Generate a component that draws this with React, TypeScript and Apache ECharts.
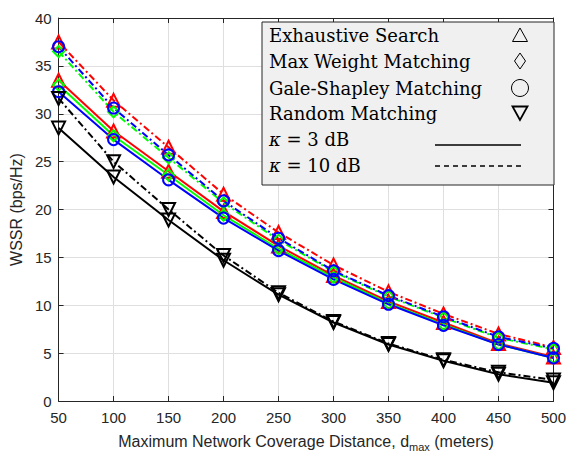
import React, { useEffect, useRef } from "react";
import * as echarts from "echarts";

const xValues = [50, 100, 150, 200, 250, 300, 350, 400, 450, 500];
const exh3 = [33.5, 28.2, 24.0, 19.8, 16.2, 13.1, 10.4, 8.2, 6.0, 4.6];
const exh10 = [37.5, 31.4, 26.5, 21.6, 17.6, 14.2, 11.4, 9.1, 7.0, 5.6];
const mwm3 = [33.0, 27.7, 23.6, 19.4, 15.9, 12.9, 10.2, 8.0, 5.9, 4.5];
const mwm10 = [36.5, 30.2, 25.4, 20.7, 16.8, 13.5, 10.9, 8.7, 6.6, 5.4];
const gs3 = [32.3, 27.3, 23.1, 19.1, 15.7, 12.7, 10.1, 7.9, 5.9, 4.5];
const gs10 = [37.0, 30.6, 25.7, 20.9, 17.0, 13.6, 11.0, 8.8, 6.7, 5.5];
const rnd3 = [28.5, 23.4, 18.9, 14.7, 11.1, 8.2, 5.9, 4.2, 2.8, 1.9];
const rnd10 = [31.6, 25.0, 20.0, 15.2, 11.3, 8.3, 6.0, 4.3, 3.0, 2.2];

const legendNames = [
  "Exhaustive Search",
  "Max Weight Matching",
  "Gale-Shapley Matching",
  "Random Matching",
];
const kappaValues = ["3", "10"];

const DASHDOT = [7, 3, 2, 3];
const AXIS_COLOR = "#262626";
const SANS = "Liberation Sans";

function mk(
  name: string,
  vals: number[],
  color: string,
  symbol: string,
  size: number,
  dashed: boolean,
  rotate = 0
) {
  return {
    name,
    type: "line",
    xAxisIndex: 0,
    yAxisIndex: 0,
    data: xValues.map((x, i) => [x, vals[i]]),
    symbol,
    symbolSize: size,
    symbolRotate: rotate,
    showSymbol: true,
    lineStyle: { color, width: 2, type: dashed ? DASHDOT : "solid" },
    itemStyle: { color: "rgba(0,0,0,0)", borderColor: color, borderWidth: 2 },
    emphasis: { disabled: true },
    z: 3,
  };
}

export default function App() {
  const ref = useRef<HTMLDivElement>(null);
  useEffect(() => {
    const chart = echarts.init(ref.current!, null, { renderer: "svg" });
    const serif = "DejaVu Serif";
    const fs = 18;
    const lx = 262;
    const ly = 22;
    const rowY = [35, 61, 88, 113, 139, 165];
    const mx = 520;
    const legendText = (t: string, y: number) => ({
      type: "text",
      x: lx + 7,
      y,
      style: {
        text: t,
        font: `${fs}px "${serif}"`,
        fill: "#000",
        verticalAlign: "middle",
      },
      z: 101,
    });
    const kappaText = (v: string, y: number) => ({
      type: "text",
      x: lx + 7,
      y,
      style: {
        text: `{i|κ} = ${v} dB`,
        font: `${fs}px "${serif}"`,
        fill: "#000",
        verticalAlign: "middle",
        rich: { i: { fontStyle: "italic", fontFamily: serif, fontSize: fs } },
      },
      z: 101,
    });
    const baseAxis = {
      axisLine: { show: true, onZero: false, lineStyle: { color: AXIS_COLOR, width: 1 } },
      axisTick: { show: true, inside: true, length: 5, lineStyle: { color: AXIS_COLOR } },
    };
    chart.setOption({
      animation: false,
      backgroundColor: "#ffffff",
      grid: { left: 57, top: 18, width: 500, height: 390, containLabel: false },
      xAxis: [
        {
          type: "value",
          min: 50,
          max: 500,
          interval: 50,
          position: "bottom",
          name: "Maximum Network Coverage Distance, d{sub|max} (meters)",
          nameLocation: "middle",
          nameGap: 30,
          nameTextStyle: {
            fontFamily: SANS,
            fontSize: 16,
            color: AXIS_COLOR,
            rich: {
              sub: {
                fontFamily: SANS,
                fontSize: 11,
                color: AXIS_COLOR,
                verticalAlign: "bottom",
                padding: [10, 0, 0, 0],
              },
            },
          },
          ...baseAxis,
          axisLabel: { fontFamily: SANS, fontSize: 15, color: AXIS_COLOR, margin: 9 },
          splitLine: { show: true, lineStyle: { color: "#dfdfdf", width: 1 } },
        },
        {
          type: "value",
          min: 50,
          max: 500,
          interval: 50,
          position: "top",
          ...baseAxis,
          axisLabel: { show: false },
          splitLine: { show: false },
        },
      ],
      yAxis: [
        {
          type: "value",
          min: 0,
          max: 40,
          interval: 5,
          position: "left",
          name: "WSSR (bps/Hz)",
          nameLocation: "middle",
          nameGap: 31,
          nameTextStyle: { fontFamily: SANS, fontSize: 16, color: AXIS_COLOR },
          ...baseAxis,
          axisLabel: { fontFamily: SANS, fontSize: 15, color: AXIS_COLOR, margin: 7 },
          splitLine: { show: true, lineStyle: { color: "#dfdfdf", width: 1 } },
        },
        {
          type: "value",
          min: 0,
          max: 40,
          interval: 5,
          position: "right",
          ...baseAxis,
          axisLabel: { show: false },
          splitLine: { show: false },
        },
      ],
      series: [
        mk(legendNames[0] + " 3", exh3, "#ff0000", "triangle", 13, false),
        mk(legendNames[0] + " 10", exh10, "#ff0000", "triangle", 13, true),
        mk(legendNames[1] + " 3", mwm3, "#00ff00", "diamond", 11, false),
        mk(legendNames[1] + " 10", mwm10, "#00ff00", "diamond", 11, true),
        mk(legendNames[2] + " 3", gs3, "#0000ff", "circle", 11, false),
        mk(legendNames[2] + " 10", gs10, "#0000ff", "circle", 11, true),
        mk(legendNames[3] + " 3", rnd3, "#000000", "triangle", 13, false, 180),
        mk(legendNames[3] + " 10", rnd10, "#000000", "triangle", 13, true, 180),
      ],
      graphic: [
        {
          type: "rect",
          shape: { x: lx, y: ly, width: 292, height: 163 },
          style: { fill: "#f0f0f0", stroke: AXIS_COLOR, lineWidth: 1 },
          z: 100,
        },
        legendText(legendNames[0], rowY[0]),
        legendText(legendNames[1], rowY[1]),
        legendText(legendNames[2], rowY[2]),
        legendText(legendNames[3], rowY[3]),
        kappaText(kappaValues[0], rowY[4]),
        kappaText(kappaValues[1], rowY[5]),
        {
          type: "polygon",
          shape: { points: [[mx, rowY[0] - 7], [mx - 7.5, rowY[0] + 6.5], [mx + 7.5, rowY[0] + 6.5]] },
          style: { fill: "none", stroke: "#000", lineWidth: 1 },
          z: 101,
        },
        {
          type: "polygon",
          shape: { points: [[mx, rowY[1] - 8], [mx - 5.5, rowY[1]], [mx, rowY[1] + 8], [mx + 5.5, rowY[1]]] },
          style: { fill: "none", stroke: "#000", lineWidth: 1 },
          z: 101,
        },
        {
          type: "circle",
          shape: { cx: mx, cy: rowY[2], r: 8.5 },
          style: { fill: "none", stroke: "#000", lineWidth: 1 },
          z: 101,
        },
        {
          type: "polygon",
          shape: { points: [[mx, rowY[3] + 7], [mx - 7.5, rowY[3] - 6.5], [mx + 7.5, rowY[3] - 6.5]] },
          style: { fill: "none", stroke: "#000", lineWidth: 1.8 },
          z: 101,
        },
        {
          type: "line",
          shape: { x1: 435, y1: 145, x2: 521, y2: 145 },
          style: { stroke: "#000", lineWidth: 1.5 },
          z: 101,
        },
        {
          type: "line",
          shape: { x1: 435, y1: 166, x2: 524, y2: 166 },
          style: { stroke: "#000", lineWidth: 1.5, lineDash: [5, 4] },
          z: 101,
        },
      ],
    });
    return () => chart.dispose();
  }, []);
  return (
    <div
      ref={ref}
      style={{ position: "fixed", left: 0, top: 0, width: 569, height: 457 }}
    />
  );
}
